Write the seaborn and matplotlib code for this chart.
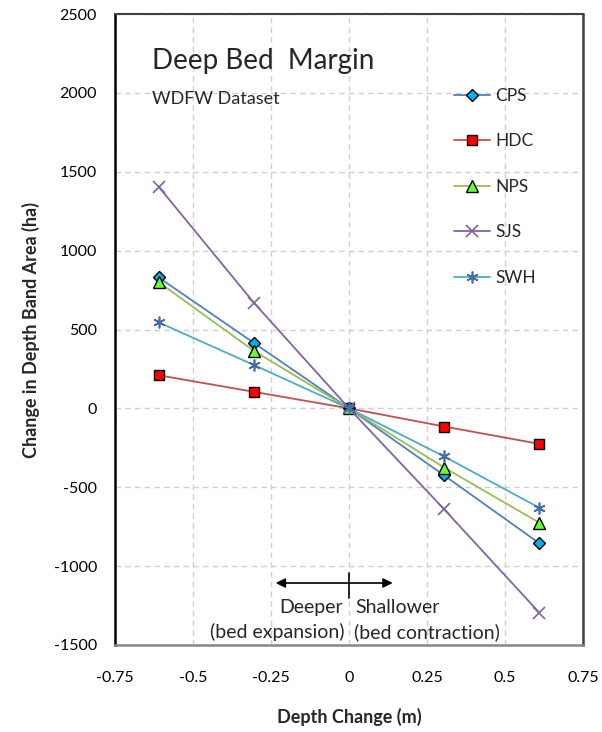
import matplotlib
matplotlib.use("Agg")
import matplotlib.pyplot as plt
import seaborn as sns
import pandas as pd

depth = [-0.61, -0.305, 0.0, 0.305, 0.61]
cps = [830, 415, 0, -425, -855]
hdc = [210, 105, 0, -115, -225]
nps = [800, 365, 0, -375, -725]
sjs = [1405, 670, 0, -640, -1295]
swh = [545, 275, 0, -305, -630]

series_names = ["CPS", "HDC", "NPS", "SJS", "SWH"]
series_vals = [cps, hdc, nps, sjs, swh]

x_ticks = [-0.75, -0.5, -0.25, 0, 0.25, 0.5, 0.75]
x_tick_labels = ["-0.75", "-0.5", "-0.25", "0", "0.25", "0.5", "0.75"]
y_ticks = [-1500, -1000, -500, 0, 500, 1000, 1500, 2000, 2500]

sns.set_theme(style="white")
plt.rcParams["font.family"] = ["Lato", "DejaVu Sans"]
plt.rcParams["axes.unicode_minus"] = False

styles = {
    "CPS": dict(color="#4F81BD", marker="D", markerfacecolor="#00B0F0", markeredgecolor="black", markersize=6.5, markeredgewidth=1.0),
    "HDC": dict(color="#C0504D", marker="s", markerfacecolor="#FF0000", markeredgecolor="black", markersize=6.5, markeredgewidth=1.0),
    "NPS": dict(color="#9BBB59", marker="^", markerfacecolor="#66FF33", markeredgecolor="black", markersize=8, markeredgewidth=1.0),
    "SJS": dict(color="#8064A2", marker="x", markerfacecolor="#8064A2", markeredgecolor="#8064A2", markersize=9, markeredgewidth=1.2),
    "SWH": dict(color="#4BACC6", marker=(6, 2, 0), markerfacecolor="#3F6FA6", markeredgecolor="#3F6FA6", markersize=8.5, markeredgewidth=1.2),
}

fig = plt.figure(figsize=(6.02, 7.32), dpi=100)
ax = fig.add_axes([115 / 602, 1 - 645 / 732, (583 - 115) / 602, (645 - 14) / 732])

for name, vals in zip(series_names, series_vals):
    df = pd.DataFrame({"x": depth, "y": vals})
    sns.lineplot(data=df, x="x", y="y", ax=ax, label=name, linewidth=1.3, **styles[name])

ax.set_xlim(-0.75, 0.75)
ax.set_ylim(-1500, 2500)
ax.set_xticks(x_ticks)
ax.set_xticklabels(x_tick_labels)
ax.set_yticks(y_ticks)
ax.tick_params(axis="both", labelsize=11.5, direction="out", length=5, width=1, colors="#333333", labelcolor="black")
ax.tick_params(axis="y", pad=8)
ax.tick_params(axis="x", pad=14)

ax.grid(True, linestyle=(0, (4, 3)), color="#D0D0D0", linewidth=1)
ax.set_axisbelow(True)

ax.spines["left"].set_color("black")
ax.spines["left"].set_linewidth(1.8)
ax.spines["bottom"].set_color("#868686")
ax.spines["bottom"].set_linewidth(1.8)
ax.spines["top"].set_color("#404040")
ax.spines["top"].set_linewidth(1.5)
ax.spines["right"].set_color("#404040")
ax.spines["right"].set_linewidth(1.8)

ax.set_xlabel("Depth Change (m)", fontsize=13, fontweight="bold", labelpad=16)
ax.set_ylabel("Change in Depth Band Area (ha)", fontsize=13, fontweight="bold", labelpad=10)

ax.text(-0.63, 2205, "Deep Bed  Margin", fontsize=20, va="center", ha="left")
ax.text(-0.63, 1962, "WDFW Dataset", fontsize=13, va="center", ha="left")

leg = ax.legend(loc="upper left", bbox_to_anchor=(0.69, 0.908), frameon=False, fontsize=12.5,
                labelspacing=1.7, handlelength=2.1, handletextpad=0.3)

# direction annotation
ax.annotate("", xy=(-0.235, -1107), xytext=(0, -1107),
            arrowprops=dict(arrowstyle="-|>", color="black", lw=1.2, mutation_scale=14, shrinkA=0, shrinkB=0))
ax.annotate("", xy=(0.14, -1107), xytext=(0, -1107),
            arrowprops=dict(arrowstyle="-|>", color="black", lw=1.2, mutation_scale=14, shrinkA=0, shrinkB=0))
ax.plot([0, 0], [-1045, -1200], color="black", lw=1.2)
ax.text(-0.02, -1262, "Deeper", fontsize=14, ha="right", va="center")
ax.text(-0.015, -1420, "(bed expansion)", fontsize=14, ha="right", va="center")
ax.text(0.02, -1262, "Shallower", fontsize=14, ha="left", va="center")
ax.text(0.015, -1420, "(bed contraction)", fontsize=14, ha="left", va="center")

fig.savefig("out.png", dpi=100)
